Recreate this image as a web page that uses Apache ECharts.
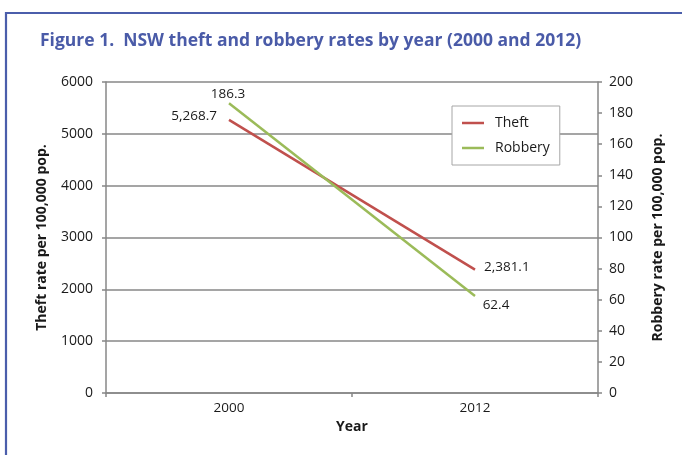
<!DOCTYPE html>
<html>
<head>
<meta charset="utf-8">
<script src="https://cdn.jsdelivr.net/npm/echarts@6/dist/echarts.min.js"></script>
<style>
  html, body { margin: 0; padding: 0; background: #ffffff; }
  #chart { width: 682px; height: 455px; }
</style>
</head>
<body>
<div id="chart"></div>
<script>
// NSW theft and robbery rates, 2000 vs 2012
const years = ['2000', '2012'];
const theftRates = [5268.7, 2381.1];
const robberyRates = [186.3, 62.4];
const theftTicks = [0, 1000, 2000, 3000, 4000, 5000, 6000];
const robberyTicks = [0, 20, 40, 60, 80, 100, 120, 140, 160, 180, 200];

const FONT = '"Open Sans", "Noto Sans", sans-serif';
const GREY = '#878787';
const TEXT = '#1a1a1a';

const fmt = v => v.toLocaleString('en-US', { minimumFractionDigits: 1, maximumFractionDigits: 1 });

const chart = echarts.init(document.getElementById('chart'), null, { renderer: 'canvas' });

const pointLabel = {
  show: true,
  color: TEXT,
  fontFamily: FONT,
  fontSize: 13.5,
  formatter: p => fmt(p.value)
};

chart.setOption({
  backgroundColor: '#ffffff',
  animation: false,
  title: {
    text: 'Figure 1.  NSW theft and robbery rates by year (2000 and 2012)',
    left: 35,
    top: 27,
    textStyle: { color: '#4a5ba8', fontFamily: FONT, fontWeight: 'bold', fontSize: 17.5 }
  },
  graphic: [{
    type: 'polyline',
    shape: { points: [[6, 470], [6, 13], [700, 13]] },
    style: { stroke: '#4b5eab', lineWidth: 2.2, fill: null },
    silent: true
  }],
  legend: {
    orient: 'vertical',
    left: 452,
    top: 106,
    padding: [10, 10, 10, 10],
    itemGap: 11,
    itemWidth: 22,
    itemHeight: 2.5,
    icon: 'rect',
    backgroundColor: '#ffffff',
    borderColor: '#a6a6a6',
    borderWidth: 1,
    textStyle: { color: TEXT, fontFamily: FONT, fontSize: 14, padding: [0, 0, 0, 6] },
    data: ['Theft', 'Robbery']
  },
  grid: { left: 106, right: 84, top: 82, bottom: 62 },
  xAxis: {
    type: 'category',
    data: years,
    boundaryGap: true,
    name: 'Year',
    nameLocation: 'middle',
    nameGap: 25,
    nameTextStyle: { color: TEXT, fontFamily: FONT, fontWeight: 'bold', fontSize: 14 },
    axisLine: { lineStyle: { color: GREY, width: 1.5 } },
    axisTick: { show: true, length: 4, lineStyle: { color: GREY, width: 1.5 } },
    axisLabel: { color: TEXT, fontFamily: FONT, fontSize: 13.5, margin: 8 }
  },
  yAxis: [{
    type: 'value',
    min: theftTicks[0],
    max: theftTicks[theftTicks.length - 1],
    interval: theftTicks[1] - theftTicks[0],
    name: 'Theft rate per 100,000 pop.',
    nameLocation: 'middle',
    nameRotate: 90,
    nameGap: 57,
    nameTextStyle: { color: TEXT, fontFamily: FONT, fontWeight: 'bold', fontSize: 14 },
    axisLine: { show: true, lineStyle: { color: GREY, width: 1.5 } },
    axisTick: { show: true, length: 4, lineStyle: { color: GREY, width: 1.5 } },
    axisLabel: { color: TEXT, fontFamily: FONT, fontSize: 14, margin: 13, formatter: v => String(v) },
    splitLine: { show: true, lineStyle: { color: GREY, width: 1.5 } }
  }, {
    type: 'value',
    position: 'right',
    min: robberyTicks[0],
    max: robberyTicks[robberyTicks.length - 1],
    interval: robberyTicks[1] - robberyTicks[0],
    name: 'Robbery rate per 100,000 pop.',
    nameLocation: 'middle',
    nameRotate: 90,
    nameGap: 53,
    nameTextStyle: { color: TEXT, fontFamily: FONT, fontWeight: 'bold', fontSize: 14 },
    axisLine: { show: true, lineStyle: { color: GREY, width: 1.5 } },
    axisTick: { show: true, length: 4, lineStyle: { color: GREY, width: 1.5 } },
    axisLabel: { color: TEXT, fontFamily: FONT, fontSize: 14, margin: 11, formatter: v => String(v) },
    splitLine: { show: false }
  }],
  series: [{
    name: 'Theft',
    type: 'line',
    yAxisIndex: 0,
    color: '#c0504d',
    symbol: 'emptyCircle',
    symbolSize: 0,
    showSymbol: true,
    lineStyle: { width: 2.5, color: '#c0504d' },
    data: [
      { value: theftRates[0], label: { position: 'left', offset: [-7, -4] } },
      { value: theftRates[1], label: { position: 'right', offset: [4, -2] } }
    ],
    label: pointLabel,
    z: 3
  }, {
    name: 'Robbery',
    type: 'line',
    yAxisIndex: 1,
    color: '#9bbb59',
    symbol: 'emptyCircle',
    symbolSize: 0,
    showSymbol: true,
    lineStyle: { width: 2.5, color: '#9bbb59' },
    data: [
      { value: robberyRates[0], label: { position: 'top', offset: [-1, 3] } },
      { value: robberyRates[1], label: { position: 'bottom', offset: [21, -3] } }
    ],
    label: pointLabel,
    z: 4
  }]
});
</script>
</body>
</html>
